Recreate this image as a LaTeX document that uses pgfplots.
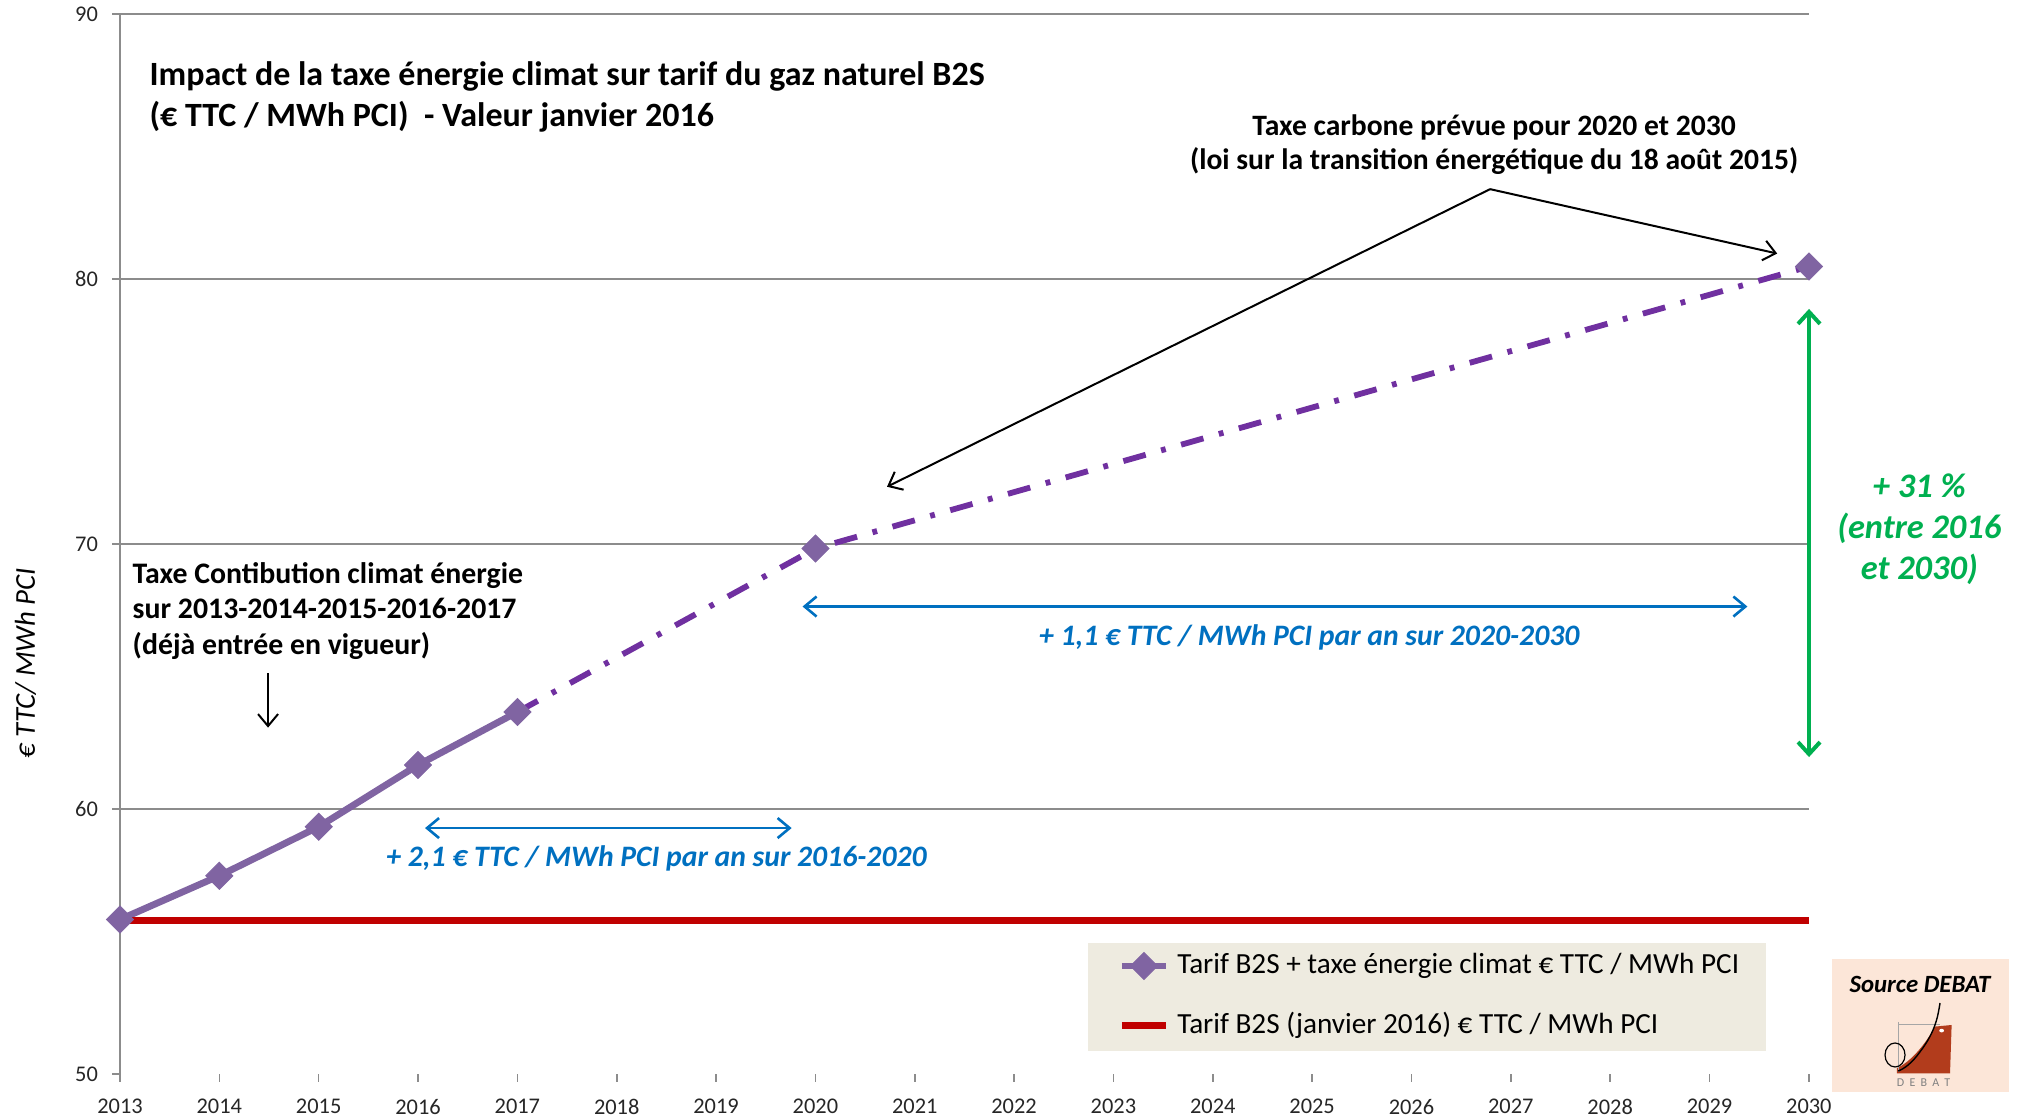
\documentclass[border=0pt]{standalone}
\usepackage{fontspec}
\setmainfont{Carlito}
\usepackage{pgfplots}
\pgfplotsset{compat=1.18}
\usetikzlibrary{arrows.meta}
\definecolor{purpL}{HTML}{8064A2}
\definecolor{purpD}{HTML}{7030A0}
\definecolor{redL}{HTML}{C00000}
\definecolor{blueA}{HTML}{0070C0}
\definecolor{greenA}{HTML}{00B050}
\definecolor{legbg}{HTML}{EEEBE0}
\definecolor{peach}{HTML}{FCE6D8}
\definecolor{gridc}{HTML}{8C8C8C}
\definecolor{logored}{HTML}{B23C1C}
\begin{document}
\begin{tikzpicture}
\begin{axis}[
  at={(30pt,11.25pt)}, anchor=south west,
  scale only axis, width=422.25pt, height=265pt,
  xmin=2013, xmax=2030, ymin=50, ymax=90,
  clip=false,
  axis lines=left, axis line style={-},
  x axis line style={draw=none},
  y axis line style={draw=gridc, line width=0.4pt},
  xtick={2013,...,2030}, ytick={60,70,80,90},
  extra y ticks={50}, extra y tick style={grid=none},
  ymajorgrids, grid style={gridc, line width=0.4pt},
  tick style={gridc, line width=0.4pt},
  tick align=outside, major tick length=2pt,
  xticklabel style={/pgf/number format/1000 sep={}, yshift=-0.8pt},
  /pgf/number format/assume math mode=true,
  tick label style={font=\fontsize{5.6}{6}\selectfont, text=black!85},
  legend style={at={(0.5907,0.0735)}, anchor=west, draw=none, fill=none,
    font=\fontsize{7.3}{8}\selectfont, row sep=4.2pt, inner sep=0pt,
    cells={anchor=west}},
  legend image code/.code={\draw[#1, mark repeat=2, mark phase=2] plot coordinates {(0pt,0pt) (5.5pt,0pt) (11pt,0pt)};},
]
\fill[legbg] (axis cs:2022.74,54.96) rectangle (axis cs:2029.57,50.87);

\addplot[purpL, line width=1.7pt, mark=square*, mark size=2.4pt,
  mark options={rotate=45, solid, fill=purpL, draw=purpL, line width=0.2pt}]
  coordinates {(2013,55.83) (2014,57.48) (2015,59.33) (2016,61.66) (2017,63.66)};
\addlegendentry{Tarif B2S + taxe énergie climat € TTC / MWh PCI}

\addplot[purpD, line width=1.45pt, dash pattern=on 5.8pt off 4pt on 1.2pt off 4pt, forget plot]
  coordinates {(2017,63.66) (2020,69.83) (2030,80.47)};
\addplot[only marks, mark=square*, mark size=2.4pt,
  mark options={rotate=45, fill=purpL, draw=purpL, line width=0.2pt}, forget plot]
  coordinates {(2020,69.83) (2030,80.47)};

\addplot[redL, line width=1.7pt] coordinates {(2013,55.8) (2030,55.8)};
\addlegendentry{Tarif B2S (janvier 2016) € TTC / MWh PCI}

% title
\node[anchor=west, align=left, inner sep=0pt, font=\bfseries\fontsize{8.5}{10.3}\selectfont]
  at (axis cs:2013.29,86.86) {Impact de la taxe énergie climat sur tarif du gaz naturel B2S\\(€ TTC / MWh PCI)\ \ - Valeur janvier 2016};

% y label
\node[rotate=90, font=\itshape\fontsize{7.2}{8}\selectfont] at (axis cs:2012.05,65.5) {€ TTC/ MWh PCI};

% taxe carbone
\node[align=center, inner sep=0pt, font=\bfseries\fontsize{7.4}{8.7}\selectfont]
  at (axis cs:2026.83,85.07) {Taxe carbone prévue pour 2020 et 2030\\(loi sur la transition énergétique du 18 août 2015)};
\draw[black, line width=0.5pt, -{Straight Barb[length=3pt, width=5pt]}] (axis cs:2026.79,83.39) -- (axis cs:2020.72,72.16);
\draw[black, line width=0.5pt, -{Straight Barb[length=3pt, width=5pt]}] (axis cs:2026.79,83.39) -- (axis cs:2029.68,80.96);

% taxe contribution
\node[anchor=west, align=left, inner sep=0pt, font=\bfseries\fontsize{7.45}{8.9}\selectfont]
  at (axis cs:2013.12,67.47) {Taxe Contibution climat énergie\\sur 2013-2014-2015-2016-2017\\(déjà entrée en vigueur)};
\draw[black, line width=0.5pt, -{Straight Barb[length=3pt, width=5pt]}] (axis cs:2014.49,65.12) -- (axis cs:2014.49,63.07);

% blue arrows
\draw[blueA, line width=0.65pt, {Straight Barb[length=3pt, width=5pt]}-{Straight Barb[length=3pt, width=5pt]}] (axis cs:2016.07,59.28) -- (axis cs:2019.76,59.28);
\node[text=blueA, font=\bfseries\itshape\fontsize{7.42}{8}\selectfont] at (axis cs:2018.40,58.12) {+ 2,1 € TTC / MWh PCI par an sur 2016-2020};
\draw[blueA, line width=0.65pt, {Straight Barb[length=3pt, width=5pt]}-{Straight Barb[length=3pt, width=5pt]}] (axis cs:2019.87,67.64) -- (axis cs:2029.38,67.64);
\node[text=blueA, font=\bfseries\itshape\fontsize{7.42}{8}\selectfont] at (axis cs:2024.97,66.48) {+ 1,1 € TTC / MWh PCI par an sur 2020-2030};

% green arrow
\draw[greenA, line width=1pt, {Straight Barb[length=3pt, width=5.5pt]}-{Straight Barb[length=3pt, width=5.5pt]}] (axis cs:2030,78.87) -- (axis cs:2030,61.96);
\node[align=center, inner sep=0pt, text=greenA, font=\bfseries\itshape\fontsize{8.6}{10.3}\selectfont]
  at (axis cs:2031.11,70.55) {+ 31 \%\\(entre 2016\\et 2030)};
\end{axis}

% source box
\fill[peach] (458pt,6.75pt) rectangle (502.25pt,40pt);
\node[font=\bfseries\itshape\fontsize{6.2}{7}\selectfont] at (480pt,33.75pt) {Source DEBAT};
\fill[logored] (474.2pt,11.4pt) -- (487.5pt,11.4pt) -- (487.9pt,23.5pt) -- (483.75pt,23.1pt)
  .. controls (481.5pt,19pt) and (478pt,14.5pt) .. (474.2pt,12.7pt) -- cycle;
\fill[white] (485.4pt,22.1pt) ellipse (0.6pt and 0.45pt);
\draw[gray!70, line width=0.25pt] (474.5pt,23.5pt) -- (485pt,23.5pt);
\draw[gray!70, line width=0.25pt] (474.5pt,24.25pt) -- (474.5pt,11.75pt);
\draw[black, line width=0.35pt] (485pt,29pt) .. controls (484.5pt,26pt) and (484pt,22pt) .. (480pt,16.8pt) .. controls (478pt,14pt) and (476pt,12.5pt) .. (474.5pt,12pt);
\draw[black, line width=0.3pt] (473.75pt,16pt) ellipse (2.5pt and 3pt);
\node[text=gray, font=\fontsize{3}{3}\selectfont] at (480.9pt,9.1pt) {D\hspace{1.3pt}E\hspace{1.3pt}B\hspace{1.3pt}A\hspace{1.3pt}T};

\pgfresetboundingbox
\path[use as bounding box] (0pt,0pt) rectangle (504.75pt,279.75pt);
\end{tikzpicture}
\end{document}
